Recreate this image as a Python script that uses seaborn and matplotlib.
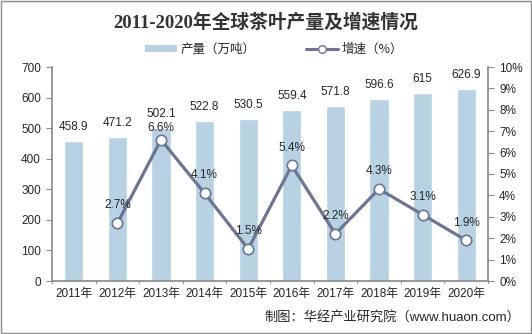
import matplotlib
matplotlib.use("Agg")
import matplotlib.pyplot as plt
import seaborn as sns
import pandas as pd
import numpy as np
from matplotlib.lines import Line2D
from matplotlib.patches import Patch, Rectangle

years = ["2011年", "2012年", "2013年", "2014年", "2015年", "2016年", "2017年", "2018年", "2019年", "2020年"]
production = [458.9, 471.2, 502.1, 522.8, 530.5, 559.4, 571.8, 596.6, 615, 626.9]
growth = [None, 2.7, 6.6, 4.1, 1.5, 5.4, 2.2, 4.3, 3.1, 1.9]

sns.set_theme(style="white")
FAM = ['Liberation Sans', 'Noto Sans CJK SC', 'DejaVu Sans']
plt.rcParams['font.family'] = FAM

bar_color = "#B7D2E3"
line_color = "#6C7597"
axis_color = "#8C8C8C"
text_color = "#262626"

fig = plt.figure(figsize=(5.32, 3.34), dpi=100)
ax = fig.add_axes([52/532, 1-281/334, (488-52)/532, (281-67)/334])

df = pd.DataFrame({"year": years, "production": production, "growth": growth})
sns.barplot(data=df, x="year", y="production", color=bar_color, width=0.44, ax=ax, saturation=1)
ax.set_ylim(0, 700)
ax.set_yticks(range(0, 701, 100))
ax.set_xlabel("")
ax.set_ylabel("")
for i, v in enumerate(production):
    ax.text(i, v + 26, f"{v:g}", ha="center", va="bottom", fontsize=8.5, color=text_color)

ax2 = ax.twinx()
gdf = df.dropna(subset=["growth"]).copy()
xs = [years.index(y) for y in gdf["year"]]
sns.lineplot(x=xs, y=gdf["growth"].values, ax=ax2, color=line_color, linewidth=2.3,
             marker="o", markersize=7.5, markerfacecolor="white", markeredgecolor=line_color,
             markeredgewidth=1.2)
ax2.set_ylim(0, 10)
ax2.set_yticks(range(0, 11))
ax2.set_yticklabels([f"{i}%" for i in range(0, 11)])
for x, g in zip(xs, gdf["growth"].values):
    # growth label sits closer to the marker where it would collide with a bar label
    bar_lbl_bottom = (production[x] + 26) / 70.0
    off = 0.55 if g + 0.55 + 0.5 < bar_lbl_bottom or g + 0.55 > bar_lbl_bottom + 0.7 else 0.25
    ax2.text(x, g + off, f"{g}%", ha="center", va="bottom", fontsize=8.5, color=text_color)
ax.set_xlim(-0.5, len(years) - 0.5)

for a in (ax, ax2):
    a.spines["top"].set_visible(False)
    a.tick_params(axis="both", labelsize=8.5, labelcolor=text_color, color=axis_color, width=0.8)
ax.spines["right"].set_visible(False)
ax.spines["left"].set_color(axis_color)
ax.spines["bottom"].set_color(axis_color)
ax2.spines["left"].set_visible(False)
ax2.spines["bottom"].set_visible(False)
ax2.spines["right"].set_color(axis_color)
ax.tick_params(axis="x", length=0, pad=5)
ax.tick_params(axis="y", direction="out", length=4, pad=4)
ax2.tick_params(axis="y", direction="out", length=4, pad=4)
ax.set_xticks(np.arange(len(years)))
ax.set_xticklabels(years, fontsize=8.5, color=text_color)
for b in np.arange(-0.5, len(years) + 0.5, 1):
    ax.plot([b, b], [0, -5], color=axis_color, lw=0.8, clip_on=False)

fig.text(0.5, 1 - 22/334, "2011-2020年全球茶叶产量及增速情况", ha="center", va="center",
         fontsize=13.5, fontweight="bold", color="#333333",
         family=['Liberation Serif', 'Noto Sans CJK SC', 'DejaVu Sans'])

handles = [Patch(facecolor=bar_color, edgecolor="none"),
           Line2D([0], [0], color=line_color, lw=2.2, marker="o", markersize=5.5,
                  markerfacecolor="white", markeredgecolor=line_color)]
fig.legend(handles, ["产量（万吨）", "增速（%）"], loc="center", bbox_to_anchor=(274/532, 1 - 49/334),
           ncol=2, frameon=False, handlelength=2.6, handleheight=0.5, columnspacing=4.0,
           handletextpad=0.3, labelcolor=text_color,
           prop={'family': ['Noto Sans CJK SC', 'DejaVu Sans'], 'size': 9})

fig.text(1 - 12/532, 1 - 317/334, "制图：华经产业研究院（www.huaon.com）", ha="right", va="center",
         fontsize=9.5, color=text_color)

fig.patches.append(Rectangle((0.002, 0.003), 0.996, 0.994, transform=fig.transFigure,
                             fill=False, edgecolor="#8C8C8C", lw=1))

fig.savefig("out.png", dpi=100)
